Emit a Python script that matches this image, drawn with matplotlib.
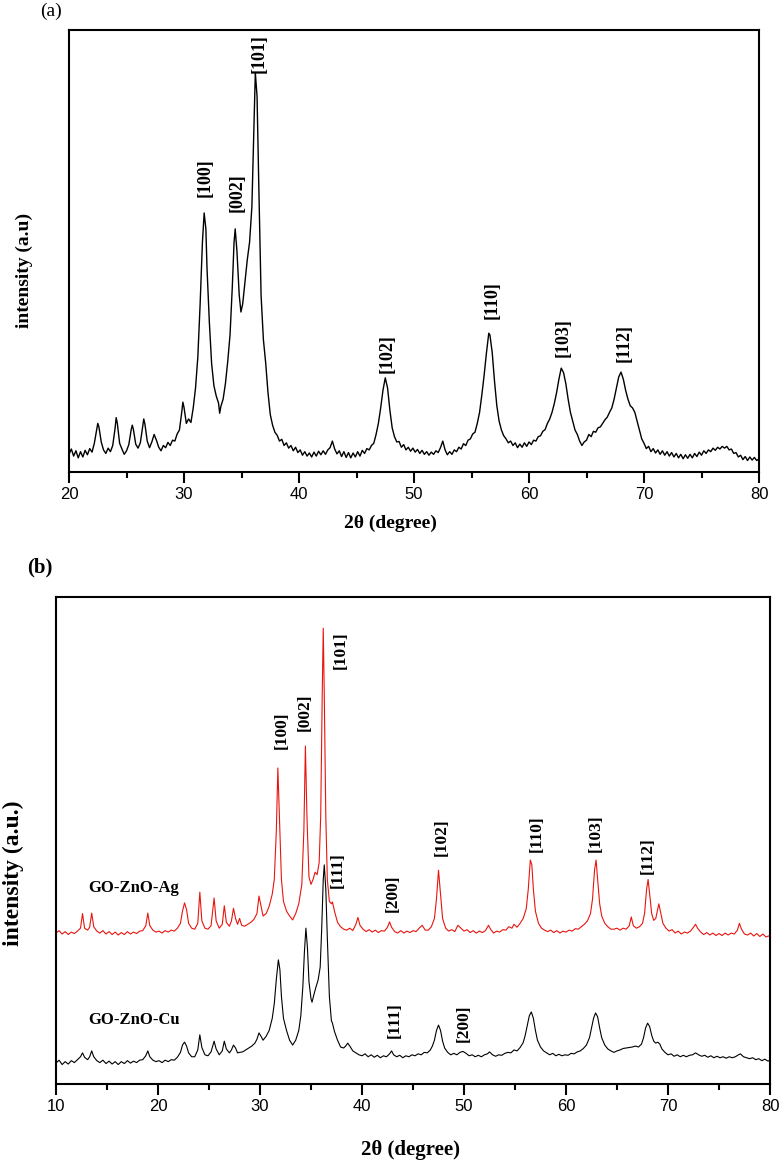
import matplotlib
matplotlib.use("Agg")
import matplotlib.pyplot as plt
from matplotlib.ticker import MultipleLocator

# (a) ZnO pattern, 2theta and intensity (a.u., 0-100 of the plot height)
theta_a = [20.0, 20.2, 20.4, 20.6, 20.8, 21.0, 21.2, 21.4, 21.6, 21.8, 22.0, 22.2, 22.4, 22.5, 22.6, 22.8, 23.0, 23.2, 23.4, 23.6,
           23.8, 24.0, 24.1, 24.2, 24.4, 24.6, 24.8, 25.0, 25.2, 25.4, 25.5, 25.6, 25.8, 26.0, 26.2, 26.4, 26.5, 26.6, 26.8, 27.0,
           27.2, 27.4, 27.6, 27.8, 28.0, 28.2, 28.4, 28.6, 28.8, 29.0, 29.2, 29.4, 29.6, 29.8, 29.9, 30.0, 30.2, 30.4, 30.6, 30.8,
           31.0, 31.2, 31.4, 31.6, 31.75, 31.9, 32.0, 32.2, 32.4, 32.6, 32.8, 33.0, 33.1, 33.2, 33.4, 33.6, 33.8, 34.0, 34.2, 34.35,
           34.45, 34.6, 34.8, 34.95, 35.1, 35.3, 35.5, 35.7, 35.9, 36.05, 36.2, 36.35, 36.5, 36.7, 36.9, 37.1, 37.3, 37.5, 37.7, 37.9,
           38.1, 38.3, 38.5, 38.7, 38.9, 39.1, 39.3, 39.5, 39.7, 39.9, 40.1, 40.3, 40.5, 40.7, 40.9, 41.1, 41.3, 41.5, 41.7, 41.9,
           42.1, 42.3, 42.5, 42.7, 42.9, 43.1, 43.3, 43.5, 43.7, 43.9, 44.1, 44.3, 44.5, 44.7, 44.9, 45.1, 45.3, 45.5, 45.7, 45.9,
           46.1, 46.3, 46.5, 46.7, 46.9, 47.1, 47.3, 47.5, 47.7, 47.9, 48.1, 48.3, 48.5, 48.7, 48.9, 49.1, 49.3, 49.5, 49.7, 49.9,
           50.1, 50.3, 50.5, 50.7, 50.9, 51.1, 51.3, 51.5, 51.7, 51.9, 52.1, 52.3, 52.5, 52.7, 52.9, 53.1, 53.3, 53.5, 53.7, 53.9,
           54.1, 54.3, 54.5, 54.7, 54.9, 55.1, 55.3, 55.5, 55.7, 55.9, 56.1, 56.3, 56.5, 56.6, 56.8, 57.0, 57.2, 57.4, 57.6, 57.8,
           58.0, 58.2, 58.4, 58.6, 58.8, 59.0, 59.2, 59.4, 59.6, 59.8, 60.0, 60.2, 60.4, 60.6, 60.8, 61.0, 61.2, 61.4, 61.6, 61.8,
           62.0, 62.2, 62.4, 62.6, 62.8, 63.0, 63.2, 63.4, 63.6, 63.8, 64.0, 64.2, 64.4, 64.6, 64.8, 65.0, 65.2, 65.4, 65.6, 65.8,
           66.0, 66.2, 66.4, 66.6, 66.8, 67.0, 67.2, 67.4, 67.6, 67.8, 68.0, 68.2, 68.4, 68.6, 68.8, 69.0, 69.2, 69.4, 69.6, 69.8,
           70.0, 70.2, 70.4, 70.6, 70.8, 71.0, 71.2, 71.4, 71.6, 71.8, 72.0, 72.2, 72.4, 72.6, 72.8, 73.0, 73.2, 73.4, 73.6, 73.8,
           74.0, 74.2, 74.4, 74.6, 74.8, 75.0, 75.2, 75.4, 75.6, 75.8, 76.0, 76.2, 76.4, 76.6, 76.8, 77.0, 77.2, 77.4, 77.6, 77.8,
           78.0, 78.2, 78.4, 78.6, 78.8, 79.0, 79.2, 79.4, 79.6, 79.8, 80.0]
int_a = [4.0, 5.2, 3.6, 4.8, 3.2, 4.6, 3.4, 4.9, 3.9, 5.3, 4.5, 6.5, 9.5, 11.0, 10.2, 6.8, 5.0, 4.2, 5.4, 4.6,
         6.0, 9.8, 12.3, 11.0, 6.5, 5.2, 4.0, 4.8, 6.2, 9.5, 10.6, 9.6, 6.3, 5.4, 6.6, 10.2, 12.0, 10.8, 7.0, 5.5,
         6.8, 8.5, 7.2, 5.6, 4.8, 6.0, 5.5, 6.7, 6.0, 7.2, 7.0, 8.6, 9.5, 13.5, 15.8, 14.6, 11.0, 12.0, 11.2, 14.5,
         19.0, 26.0, 38.0, 52.0, 58.6, 55.0, 46.0, 34.0, 24.5, 19.5, 17.2, 15.6, 13.3, 14.8, 16.5, 20.0, 25.0, 31.0, 42.0, 52.0,
         55.0, 50.0, 40.0, 36.2, 38.0, 43.0, 48.0, 52.0, 60.0, 75.0, 90.3, 85.0, 65.0, 40.0, 30.0, 24.7, 18.0, 13.0, 10.6, 9.0,
         8.3, 7.0, 7.4, 6.0, 6.6, 5.4, 6.0, 4.8, 5.6, 4.4, 5.0, 3.8, 4.6, 3.6, 4.3, 3.4, 4.5, 3.6, 4.7, 3.9,
         4.8, 4.0, 5.0, 5.5, 7.0, 5.2, 4.1, 4.8, 3.5, 4.6, 3.3, 4.4, 3.2, 4.3, 3.4, 4.6, 3.6, 4.9, 4.2, 5.3,
         5.0, 6.0, 6.5, 8.5, 11.0, 14.5, 18.5, 21.3, 19.0, 14.0, 10.0, 8.0, 6.8, 6.9, 5.6, 6.2, 5.0, 5.6, 4.7, 5.4,
         4.5, 5.1, 4.2, 4.9, 4.0, 4.6, 3.8, 4.5, 4.0, 4.8, 4.4, 5.5, 7.0, 5.0, 3.9, 4.6, 4.0, 5.0, 4.6, 5.6,
         5.2, 6.4, 6.0, 7.2, 7.5, 8.6, 9.0, 11.0, 13.5, 17.5, 22.0, 27.0, 31.4, 31.0, 27.0, 20.5, 15.0, 11.5, 9.5, 8.2,
         7.5, 6.6, 7.0, 6.0, 6.6, 5.5, 6.3, 5.6, 6.6, 5.8, 6.8, 6.2, 7.2, 7.0, 8.0, 8.2, 9.2, 9.6, 11.0, 12.0,
         13.5, 15.5, 18.0, 21.0, 23.5, 22.5, 20.0, 16.5, 13.5, 11.5, 9.5, 8.5, 7.0, 6.0, 6.8, 7.2, 8.5, 8.0, 9.2, 9.0,
         10.0, 10.2, 11.0, 11.8, 12.4, 13.5, 14.5, 16.5, 19.0, 21.5, 22.6, 21.0, 18.5, 16.5, 15.0, 14.5, 13.5, 11.5, 9.5, 7.5,
         6.5, 5.3, 5.8, 4.6, 5.3, 4.3, 5.0, 4.0, 4.8, 3.8, 4.6, 3.6, 4.4, 3.4, 4.2, 3.2, 4.0, 3.0, 3.9, 3.1,
         4.0, 3.2, 4.2, 3.5, 4.5, 3.8, 4.8, 4.2, 5.0, 4.6, 5.4, 4.9, 5.6, 5.2, 5.8, 5.4, 5.8, 5.0, 5.2, 4.2,
         4.4, 3.4, 3.8, 2.8, 3.5, 2.6, 3.4, 2.7, 3.3, 2.6, 3.0]

labels_a = ["[100]", "[002]", "[101]", "[102]", "[110]", "[103]", "[112]"]
label_x_a = [31.8, 34.6, 36.5, 47.7, 56.8, 63.0, 68.3]
label_y_a = [66.5, 63.1, 94.6, 26.9, 38.9, 30.5, 29.2]

# (b) GO-ZnO-Ag (red) and GO-ZnO-Cu (black)
theta_ag = [10.0, 10.3, 10.6, 10.9, 11.2, 11.5, 11.8, 12.1, 12.4, 12.6, 12.8, 13.1, 13.3, 13.5, 13.7, 14.0, 14.3, 14.6, 14.9, 15.2,
            15.5, 15.8, 16.1, 16.4, 16.7, 17.0, 17.3, 17.6, 17.9, 18.2, 18.5, 18.8, 19.0, 19.2, 19.5, 19.8, 20.1, 20.4, 20.7, 21.0,
            21.3, 21.6, 21.9, 22.2, 22.4, 22.6, 22.8, 23.0, 23.3, 23.6, 23.9, 24.1, 24.3, 24.6, 24.9, 25.2, 25.5, 25.7, 26.0, 26.3,
            26.5, 26.7, 27.0, 27.2, 27.4, 27.6, 27.8, 28.0, 28.2, 28.5, 28.8, 29.1, 29.4, 29.7, 29.9, 30.1, 30.3, 30.6, 30.9, 31.2,
            31.4, 31.6, 31.75, 31.9, 32.1, 32.3, 32.6, 32.9, 33.2, 33.5, 33.8, 34.1, 34.3, 34.45, 34.6, 34.8, 35.0, 35.2, 35.4, 35.6,
            35.8, 35.95, 36.1, 36.2, 36.3, 36.45, 36.6, 36.8, 37.0, 37.1, 37.3, 37.6, 37.9, 38.2, 38.5, 38.8, 39.1, 39.4, 39.6, 39.8,
            40.1, 40.4, 40.7, 41.0, 41.3, 41.6, 41.9, 42.2, 42.5, 42.7, 42.9, 43.2, 43.5, 43.8, 44.1, 44.4, 44.7, 45.0, 45.3, 45.6,
            45.9, 46.2, 46.5, 46.8, 47.1, 47.3, 47.5, 47.7, 47.9, 48.2, 48.5, 48.8, 49.1, 49.4, 49.7, 50.0, 50.3, 50.6, 50.9, 51.2,
            51.5, 51.8, 52.1, 52.4, 52.6, 52.9, 53.2, 53.5, 53.8, 54.1, 54.4, 54.7, 54.9, 55.2, 55.5, 55.8, 56.1, 56.3, 56.5, 56.65,
            56.8, 57.0, 57.3, 57.6, 57.9, 58.2, 58.5, 58.8, 59.1, 59.4, 59.7, 60.0, 60.3, 60.6, 60.9, 61.2, 61.5, 61.8, 62.1, 62.4,
            62.6, 62.8, 62.95, 63.1, 63.3, 63.5, 63.8, 64.1, 64.4, 64.7, 65.0, 65.3, 65.6, 65.9, 66.2, 66.4, 66.6, 66.9, 67.2, 67.5,
            67.7, 67.9, 68.05, 68.2, 68.4, 68.6, 68.8, 69.0, 69.1, 69.3, 69.5, 69.8, 70.1, 70.4, 70.7, 71.0, 71.3, 71.6, 71.9, 72.2,
            72.5, 72.7, 72.9, 73.2, 73.5, 73.8, 74.1, 74.4, 74.7, 75.0, 75.3, 75.6, 75.9, 76.2, 76.5, 76.8, 77.0, 77.2, 77.5, 77.8,
            78.1, 78.4, 78.7, 79.0, 79.3, 79.6, 80.0]
int_ag = [31.0, 31.5, 30.8, 31.3, 30.7, 31.2, 30.9, 31.4, 32.0, 35.0, 32.0, 31.6, 32.2, 35.1, 32.3, 31.4, 31.0, 31.5, 30.8, 31.3,
          30.7, 31.2, 30.6, 31.1, 30.7, 31.3, 30.8, 31.2, 30.9, 31.4, 31.5, 32.5, 35.1, 32.5, 31.6, 31.2, 31.4, 31.0, 31.5, 31.2,
          31.6, 31.4, 32.0, 33.0, 35.5, 37.2, 35.8, 33.0, 32.0, 31.8, 33.0, 39.4, 33.5, 32.0, 31.8, 32.5, 38.2, 33.5, 32.0, 32.8,
          36.6, 33.2, 32.4, 33.5, 36.1, 34.0, 32.8, 34.0, 32.6, 32.4, 32.8, 33.2, 33.8, 35.0, 38.6, 36.5, 34.5, 35.0, 36.5, 39.0,
          42.0, 52.0, 64.9, 55.0, 42.0, 37.5, 35.5, 34.5, 33.7, 35.0, 37.0, 41.0, 52.0, 69.4, 55.0, 42.5, 41.0, 42.0, 43.5, 43.0,
          45.5, 55.0, 80.0, 93.6, 80.0, 55.0, 42.0, 37.5, 37.0, 37.4, 35.5, 33.2, 32.3, 31.8, 31.6, 32.0, 31.5, 32.8, 34.2, 32.6,
          31.8, 31.3, 31.7, 31.2, 31.6, 31.1, 31.5, 31.4, 32.2, 33.3, 32.2, 31.3, 31.0, 31.5, 31.0, 31.4, 31.1, 31.5, 31.3, 32.0,
          32.6, 31.6, 31.6, 32.3, 34.0, 38.0, 43.9, 39.0, 34.0, 32.0, 31.4, 31.7, 31.3, 32.6, 32.0, 31.4, 31.7, 31.1, 31.5, 31.0,
          31.4, 31.1, 31.5, 32.6, 31.8, 31.0, 31.4, 31.2, 31.7, 31.6, 32.3, 32.0, 32.8, 32.2, 33.0, 34.0, 36.0, 40.0, 46.0, 45.0,
          40.0, 35.5, 33.0, 32.0, 31.6, 31.3, 31.6, 31.1, 31.5, 31.0, 31.4, 31.2, 31.6, 31.4, 31.9, 31.8, 32.3, 32.8, 33.5, 35.0,
          38.0, 44.0, 46.0, 42.0, 37.0, 34.5, 33.0, 32.3, 31.8, 31.8, 32.0, 31.6, 32.0, 31.8, 32.5, 34.3, 32.5, 32.0, 32.3, 33.0,
          35.0, 40.0, 42.0, 39.0, 35.0, 33.6, 34.0, 36.0, 37.0, 35.0, 33.0, 32.0, 31.4, 31.7, 31.0, 31.4, 30.8, 31.2, 31.0, 31.4,
          32.2, 32.8, 32.0, 31.2, 30.7, 31.1, 30.6, 31.0, 30.5, 30.9, 30.5, 31.0, 30.6, 31.0, 30.8, 31.6, 33.0, 31.8, 30.8, 30.6,
          31.0, 30.4, 30.9, 30.3, 30.8, 30.2, 30.5]

theta_cu = [10.0, 10.3, 10.6, 10.9, 11.2, 11.5, 11.8, 12.1, 12.4, 12.6, 12.8, 13.1, 13.3, 13.5, 13.7, 14.0, 14.3, 14.6, 14.9, 15.2,
            15.5, 15.8, 16.1, 16.4, 16.7, 17.0, 17.3, 17.6, 17.9, 18.2, 18.5, 18.8, 19.0, 19.2, 19.5, 19.8, 20.1, 20.4, 20.7, 21.0,
            21.3, 21.6, 21.9, 22.2, 22.4, 22.6, 22.8, 23.0, 23.3, 23.6, 23.9, 24.1, 24.3, 24.6, 24.9, 25.2, 25.5, 25.7, 26.0, 26.3,
            26.5, 26.7, 27.0, 27.2, 27.4, 27.6, 27.8, 28.0, 28.3, 28.6, 28.9, 29.2, 29.5, 29.7, 29.9, 30.1, 30.3, 30.6, 30.9, 31.2,
            31.4, 31.6, 31.8, 31.95, 32.1, 32.3, 32.6, 32.9, 33.2, 33.5, 33.8, 34.0, 34.2, 34.35, 34.5, 34.65, 34.8, 35.0, 35.1, 35.3,
            35.5, 35.7, 35.9, 36.05, 36.2, 36.3, 36.45, 36.6, 36.8, 37.0, 37.1, 37.3, 37.6, 37.9, 38.2, 38.4, 38.6, 38.8, 39.1, 39.4,
            39.7, 40.0, 40.3, 40.6, 40.9, 41.2, 41.5, 41.8, 42.1, 42.4, 42.7, 42.9, 43.1, 43.4, 43.7, 44.0, 44.3, 44.6, 44.9, 45.2,
            45.5, 45.8, 46.1, 46.4, 46.7, 46.9, 47.1, 47.3, 47.5, 47.7, 47.9, 48.1, 48.4, 48.7, 49.0, 49.3, 49.6, 49.9, 50.2, 50.5,
            50.8, 51.1, 51.4, 51.7, 52.0, 52.3, 52.5, 52.8, 53.1, 53.4, 53.7, 54.0, 54.3, 54.6, 54.9, 55.2, 55.5, 55.8, 56.0, 56.2,
            56.4, 56.6, 56.8, 57.0, 57.2, 57.5, 57.8, 58.1, 58.4, 58.7, 59.0, 59.3, 59.6, 59.9, 60.2, 60.5, 60.8, 61.1, 61.4, 61.7,
            62.0, 62.3, 62.5, 62.7, 62.9, 63.1, 63.3, 63.5, 63.8, 64.1, 64.4, 64.7, 65.0, 65.3, 65.6, 65.9, 66.2, 66.5, 66.8, 67.1,
            67.4, 67.6, 67.8, 68.0, 68.2, 68.4, 68.6, 68.8, 69.0, 69.2, 69.4, 69.7, 70.0, 70.3, 70.6, 70.9, 71.2, 71.5, 71.8, 72.1,
            72.4, 72.7, 73.0, 73.3, 73.6, 73.9, 74.2, 74.5, 74.8, 75.1, 75.4, 75.7, 76.0, 76.3, 76.6, 76.9, 77.1, 77.4, 77.7, 78.0,
            78.3, 78.6, 78.9, 79.2, 79.5, 79.8, 80.0]
int_cu = [4.3, 4.9, 4.0, 4.6, 4.1, 4.8, 4.4, 5.0, 5.6, 6.4, 5.5, 5.0, 5.6, 6.8, 5.6, 4.8, 4.4, 4.9, 4.2, 4.7,
          4.1, 4.6, 4.0, 4.6, 4.2, 4.8, 4.3, 4.7, 4.4, 4.9, 5.0, 5.8, 6.8, 5.6, 4.9, 4.6, 4.8, 4.4, 4.9, 4.6,
          5.0, 4.9, 5.5, 6.5, 8.0, 8.6, 7.8, 6.4, 5.6, 5.6, 7.0, 10.1, 7.5, 6.0, 5.8, 6.6, 8.8, 7.2, 6.0, 6.8,
          8.8, 7.2, 6.4, 7.0, 8.0, 7.4, 6.4, 6.5, 6.6, 7.0, 7.4, 7.8, 8.4, 9.2, 10.5, 9.8, 9.0, 9.8, 11.0, 13.5,
          16.5, 21.5, 25.5, 23.5, 18.0, 13.5, 11.0, 9.0, 8.0, 9.0, 11.0, 14.0, 20.0, 27.0, 32.0, 28.0, 21.0, 17.5, 16.8, 18.5,
          20.0, 21.4, 24.0, 32.0, 42.0, 45.0, 40.0, 30.0, 18.0, 13.0, 12.5, 10.8, 9.0, 7.6, 7.4, 7.8, 8.4, 7.8, 6.8, 6.4,
          6.0, 5.8, 6.2, 5.6, 6.0, 5.5, 5.9, 5.4, 5.8, 5.6, 6.2, 6.8, 6.0, 5.6, 5.9, 5.4, 5.8, 5.6, 6.0, 5.8,
          6.2, 6.0, 6.5, 6.4, 7.0, 7.8, 9.0, 11.0, 12.1, 11.0, 8.8, 7.4, 6.5, 6.0, 6.3, 6.0, 6.5, 6.7, 6.3, 5.8,
          6.0, 5.6, 5.9, 5.6, 6.0, 6.2, 6.6, 6.0, 5.7, 6.0, 5.9, 6.3, 6.5, 6.4, 7.0, 6.8, 7.5, 8.5, 10.0, 12.0,
          14.0, 14.8, 13.5, 11.0, 9.0, 7.6, 6.8, 6.4, 6.0, 6.3, 5.8, 6.1, 5.8, 6.0, 5.9, 6.3, 6.2, 6.6, 6.8, 7.3,
          8.0, 9.5, 11.5, 13.5, 14.6, 13.8, 11.5, 9.5, 8.0, 7.2, 6.8, 6.5, 6.8, 7.0, 7.3, 7.4, 7.5, 7.6, 7.8, 7.6,
          8.2, 9.5, 11.5, 12.5, 11.8, 10.0, 8.8, 8.4, 8.6, 8.2, 7.2, 6.5, 6.0, 6.2, 5.7, 6.0, 5.6, 5.9, 5.6, 5.9,
          6.0, 6.4, 6.0, 5.7, 5.9, 5.5, 5.8, 5.4, 5.7, 5.4, 5.6, 5.3, 5.6, 5.4, 5.6, 6.0, 6.2, 5.6, 5.4, 5.2,
          5.4, 5.0, 5.2, 4.8, 5.1, 4.7, 4.9]

labels_b = ["[100]", "[002]", "[101]", "[111]", "[200]", "[102]", "[110]", "[103]", "[112]", "[111]", "[200]"]
label_x_b = [32.1, 34.4, 37.9, 37.6, 43.0, 47.8, 57.1, 62.9, 68.0, 43.2, 50.0]
label_y_b = [72.7, 76.4, 89.1, 43.9, 39.2, 50.7, 51.5, 51.5, 47.0, 13.1, 12.5]

samples = ["GO-ZnO-Ag", "GO-ZnO-Cu"]
sample_y = [40.2, 13.1]

serif = "Liberation Serif"
plt.rcParams['font.family'] = ['Liberation Sans', 'DejaVu Sans']
plt.rcParams['axes.linewidth'] = 1.5

fig = plt.figure(figsize=(7.8, 11.62), dpi=100)
ax1 = fig.add_axes([0.0885, 0.5938, 0.8846, 0.3804])
ax2 = fig.add_axes([0.0718, 0.0671, 0.9154, 0.4191])

ax1.plot(theta_a, int_a, color="black", linewidth=1.0)
ax1.set_xlim(20, 80)
ax1.set_ylim(0, 100)
for lab, x, y in zip(labels_a, label_x_a, label_y_a):
    ax1.text(x, y, lab, rotation=90, ha="center", va="center", fontsize=13,
             fontweight="bold", family=serif)

ax2.plot(theta_ag, int_ag, color="#e8150f", linewidth=0.8)
ax2.plot(theta_cu, int_cu, color="black", linewidth=0.8)
ax2.set_xlim(10, 80)
ax2.set_ylim(0, 100)
for lab, x, y in zip(labels_b, label_x_b, label_y_b):
    ax2.text(x, y, lab, rotation=90, ha="center", va="center", fontsize=12.5,
             fontweight="bold", family=serif)
for s, y in zip(samples, sample_y):
    ax2.text(13.2, y, s, ha="left", va="center", fontsize=12, fontweight="bold", family=serif)

for ax in [ax1, ax2]:
    ax.xaxis.set_major_locator(MultipleLocator(10))
    ax.xaxis.set_minor_locator(MultipleLocator(5))
    ax.tick_params(axis="x", which="major", direction="out", length=8, width=1.5, labelsize=12, pad=3)
    ax.tick_params(axis="x", which="minor", direction="out", length=4, width=1.5)
    ax.set_yticks([])

fig.text(0.031, 0.7676, "intensity (a.u)", rotation=90, ha="center", va="center",
         fontsize=14, fontweight="bold", family=serif)
fig.text(0.501, 0.55, "2θ (degree)", ha="center", va="center", fontsize=14, fontweight="bold", family=serif)
fig.text(0.0167, 0.2487, "intensity (a.u.)", rotation=90, ha="center", va="center",
         fontsize=17, fontweight="bold", family=serif)
fig.text(0.526, 0.0103, "2θ (degree)", ha="center", va="center", fontsize=15, fontweight="bold", family=serif)
fig.text(0.065, 0.99, "(a)", ha="center", va="center", fontsize=14, family=serif)
fig.text(0.051, 0.512, "(b)", ha="center", va="center", fontsize=15, fontweight="bold", family=serif)

plt.savefig("out.png", dpi=100)
